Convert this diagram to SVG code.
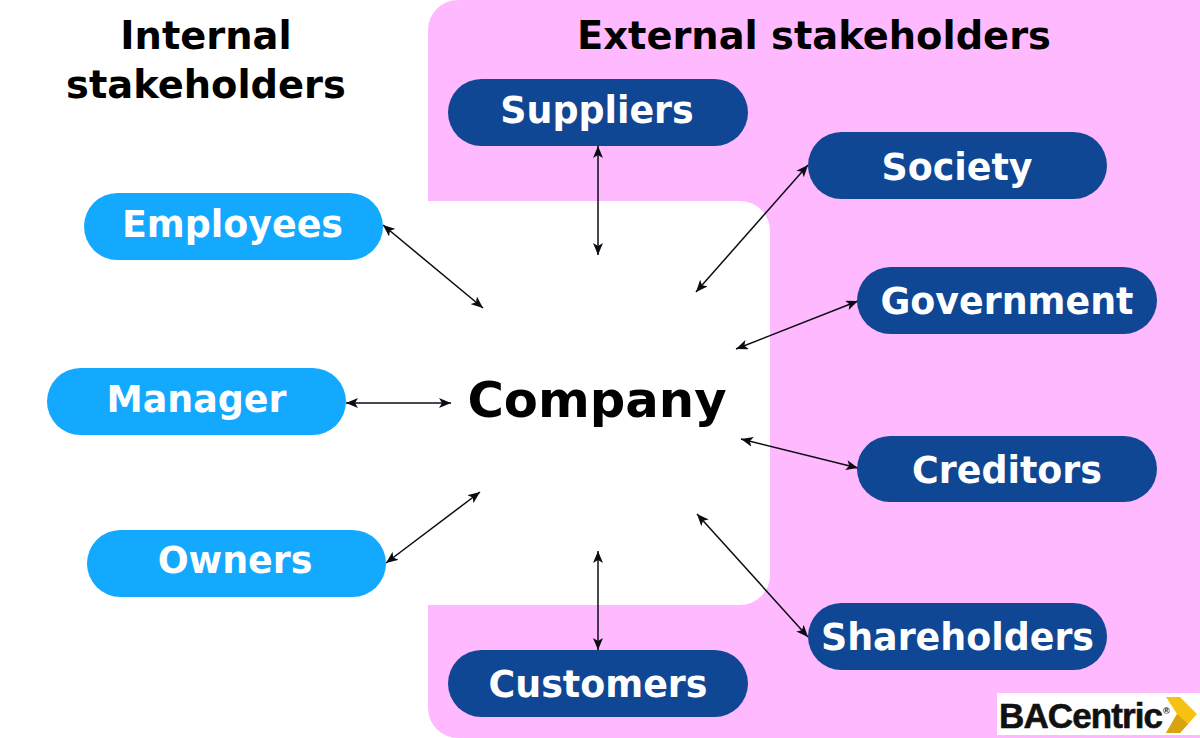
<svg xmlns="http://www.w3.org/2000/svg" width="1200" height="738" viewBox="0 0 1200 738">
<defs>
<marker id="ah" viewBox="0 0 12 10" refX="12" refY="5" markerWidth="12" markerHeight="10" markerUnits="userSpaceOnUse" orient="auto-start-reverse"><path d="M12 5 L0 0 L3 5 L0 10 Z" fill="#0b0b14"/></marker>
</defs>
<style>
.t{font-family:"DejaVu Sans",sans-serif;font-weight:700;text-anchor:middle}
.h{font-size:38.4px;fill:#000}
.n{font-size:36.4px;fill:#fff}
.in{fill:#12a9ff}
.ex{fill:#0f4794}
.c{stroke:#0b0b14;stroke-width:1.5;fill:none;marker-start:url(#ah);marker-end:url(#ah)}
</style>
<rect width="1200" height="738" fill="#fff"/>
<g id="external-region">
<rect x="428" y="0" width="800" height="738" rx="30" fill="#ffb9ff"/>
<rect x="380" y="201" width="390" height="404" rx="30" fill="#fff"/>
</g>
<g id="headings">
<text class="t h" x="206" y="49">Internal</text>
<text class="t h" x="206" y="98">stakeholders</text>
<text class="t h" x="814" y="49">External stakeholders</text>
</g>
<g id="connectors">
<line class="c" x1="598" y1="146" x2="598" y2="255"/>
<line class="c" x1="808" y1="165" x2="696" y2="292"/>
<line class="c" x1="858" y1="301" x2="736" y2="349"/>
<line class="c" x1="858" y1="468" x2="741" y2="439"/>
<line class="c" x1="808" y1="637" x2="697" y2="514"/>
<line class="c" x1="598" y1="650" x2="598" y2="551"/>
<line class="c" x1="383" y1="225" x2="483" y2="308"/>
<line class="c" x1="346" y1="403" x2="451" y2="403"/>
<line class="c" x1="386" y1="563" x2="480" y2="492"/>
</g>
<g id="company"><text class="t" x="597" y="417" font-size="49.7" fill="#000">Company</text></g>
<g id="suppliers"><rect class="ex" x="448" y="79" width="300" height="67" rx="33.5"/><text class="t n" x="597" y="123">Suppliers</text></g>
<g id="society"><rect class="ex" x="808" y="132" width="299" height="67" rx="33.5"/><text class="t n" x="957" y="180">Society</text></g>
<g id="government"><rect class="ex" x="857" y="267" width="300" height="67" rx="33.5"/><text class="t n" x="1007" y="314">Government</text></g>
<g id="creditors"><rect class="ex" x="857" y="436" width="300" height="66" rx="33"/><text class="t n" x="1007" y="483">Creditors</text></g>
<g id="shareholders"><rect class="ex" x="808" y="603" width="299" height="67" rx="33.5"/><text class="t n" x="957.5" y="650">Shareholders</text></g>
<g id="customers"><rect class="ex" x="448" y="650" width="300" height="67" rx="33.5"/><text class="t n" x="598" y="697">Customers</text></g>
<g id="employees"><rect class="in" x="84" y="193" width="299" height="67" rx="33.5"/><text class="t n" x="232.5" y="237">Employees</text></g>
<g id="manager"><rect class="in" x="47" y="368" width="299" height="67" rx="33.5"/><text class="t n" x="196.5" y="412">Manager</text></g>
<g id="owners"><rect class="in" x="87" y="530" width="299" height="67" rx="33.5"/><text class="t n" x="235" y="573">Owners</text></g>
<g id="logo">
<rect x="997" y="693" width="203" height="42" fill="#fff"/>
<text x="999" y="728" font-family="Liberation Sans,Arial,sans-serif" font-weight="700" font-size="35" letter-spacing="-0.9" stroke="#111" stroke-width="0.6" fill="#111">BACentric</text>
<text x="1163" y="714" font-family="Liberation Sans,Arial,sans-serif" font-weight="700" font-size="9" fill="#111">®</text>
<path d="M1166 697H1180L1197 714L1180 733H1166L1177 714Z" fill="#f6c113"/>
<path d="M1177 714L1188 724L1180 733H1166Z" fill="#d9a30f"/>
</g>
</svg>
